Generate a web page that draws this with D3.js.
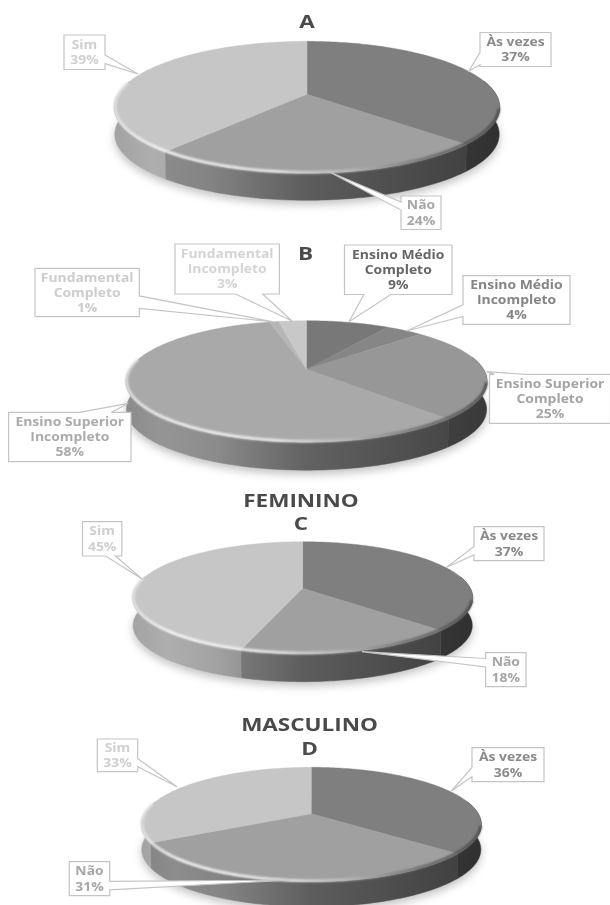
<!DOCTYPE html>
<meta charset="utf-8" />
<title>Pies A-D</title>
<style>
  html, body { margin: 0; background: #fff; }
  svg { display: block; filter: blur(0.55px); }
  text { font-family: "Open Sans", sans-serif; font-weight: 700; text-anchor: middle; }
</style>
<body>
<svg width="610" height="905"></svg>
<script src="https://d3js.org/d3.v7.min.js"></script>
<script>
// values (percent)
const categoriesA = [["Às vezes"], ["Não"], ["Sim"]];
const valuesA = [37, 24, 39];
const categoriesB = [["Ensino Médio", "Completo"], ["Ensino Médio", "Incompleto"], ["Ensino Superior", "Completo"],
  ["Ensino Superior", "Incompleto"], ["Fundamental", "Completo"], ["Fundamental", "Incompleto"]];
const valuesB = [9, 4, 25, 58, 1, 3];
const categoriesC = [["Às vezes"], ["Não"], ["Sim"]];
const valuesC = [37, 18, 45];
const categoriesD = [["Às vezes"], ["Não"], ["Sim"]];
const valuesD = [36, 31, 33];

const sliceA = ["#7f7f7f", "#a0a0a0", "#c6c6c6"];
const sliceB = ["#787878", "#868686", "#979797", "#a9a9a9", "#b6b6b6", "#c8c8c8"];
const textA = ["#8a8a8a", "#a6a6a6", "#cfcfcf"];
const textB = ["#666666", "#858585", "#a4a4a4", "#ababab", "#cdcdcd", "#d4d4d4"];

// pie geometry: cx, apex y, a/b radii, q perspective, depth of the wall
const geomA = { cx: 307, cy: 94.3, a: 189, b: 63.4, q: 0.197, depth: 27 };
const geomB = { cx: 306.5, cy: 369.3, a: 177, b: 58.3, q: 0.2, depth: 28 };
const geomC = { cx: 302.7, cy: 588.3, a: 167.6, b: 54.5, q: 0.17, depth: 27.7 };
const geomD = { cx: 311.3, cy: 813.7, a: 167, b: 55.2, q: 0.189, depth: 25 };

// callout boxes: x, y, w, h, tip, side the wedge leaves from, wedge base as fractions of that side
const boxesA = [
  { x: 480, y: 32.5, w: 71, h: 34, tip: [469, 71], side: "l", f: [0.58, 0.95] },
  { x: 401, y: 196, w: 40, h: 33.5, tip: [329, 171.7], side: "l", f: [0.18, 0.42] },
  { x: 64, y: 35, w: 41, h: 34.5, tip: [138, 74], side: "r", f: [0.58, 0.83] }
];
const boxesB = [
  { x: 344.5, y: 245, w: 107.5, h: 49.5, tip: [349, 321.7], side: "b", f: [0.18, 0.43] },
  { x: 463, y: 275.7, w: 107, h: 48.6, tip: [406.6, 331], side: "l", f: [0.6, 0.84] },
  { x: 489.5, y: 374.3, w: 121, h: 49, tip: [486.4, 371.7], side: "t", f: [0.04, 0.3] },
  { x: 8.6, y: 412.3, w: 122.4, h: 49.4, tip: [128.4, 403.3], side: "t", f: [0.58, 0.84] },
  { x: 35, y: 268.3, w: 104.3, h: 48.4, tip: [272.4, 321.7], side: "r", f: [0.57, 0.83] },
  { x: 175, y: 244, w: 104.4, h: 50, tip: [292, 321], side: "b", f: [0.58, 0.84] }
];
const boxesC = [
  { x: 474, y: 526.7, w: 70, h: 34, tip: [446.7, 567.3], side: "l", f: [0.58, 0.83] },
  { x: 485.6, y: 652.7, w: 40.4, h: 34, tip: [362, 651.7], side: "l", f: [0.17, 0.42] },
  { x: 82.5, y: 521.7, w: 39.3, h: 34.3, tip: [142, 579], side: "b", f: [0.59, 0.84] }
];
const boxesD = [
  { x: 472, y: 747.7, w: 72, h: 34, tip: [451.4, 791], side: "l", f: [0.58, 0.85] },
  { x: 69.3, y: 861.7, w: 40.4, h: 34, tip: [290, 880], side: "r", f: [0.58, 0.83] },
  { x: 97.3, y: 739, w: 40.4, h: 32.7, tip: [177, 786.7], side: "r", f: [0.6, 0.85] }
];

const titles = [
  { t: "A", y: 28 }, { t: "B", x: 305.5, y: 260 },
  { t: "FEMININO", x: 301, y: 507 }, { t: "C", x: 301, y: 530 },
  { t: "MASCULINO", x: 309.5, y: 731 }, { t: "D", x: 309.5, y: 755 }
];

const svg = d3.select("svg");
const defs = svg.append("defs");
defs.append("filter").attr("id", "soft").attr("x", "-20%").attr("y", "-30%").attr("width", "140%").attr("height", "160%")
  .append("feGaussianBlur").attr("stdDeviation", 5);
defs.append("filter").attr("id", "rimBlur").append("feGaussianBlur").attr("stdDeviation", 0.8);

const pie = d3.pie().sort(null);
let gradId = 0;

function projector(g) {
  return (t, down) => {
    const u = Math.sin(t), v = -Math.cos(t), k = 1 - g.q * v, s = down ? 0.997 : 1;
    return [g.cx + s * g.a * u / k, g.cy + g.b * v / k + (down ? g.depth : 0)];
  };
}
function sweep(t0, t1) {
  const n = Math.max(2, Math.ceil((t1 - t0) / 0.02));
  return d3.range(n + 1).map(i => t0 + (t1 - t0) * i / n);
}
const line = d3.line();

function wallGradient(g, color) {
  const id = "wall" + gradId++;
  const left = g.cx - g.a * 1.02, right = g.cx + g.a * 1.02;
  const grad = defs.append("linearGradient").attr("id", id).attr("gradientUnits", "userSpaceOnUse")
    .attr("x1", left).attr("x2", right).attr("y1", 0).attr("y2", 0);
  const c = d3.rgb(color);
  [[0, 0.82], [0.1, 0.88], [0.25, 0.82], [0.5, 0.58], [0.85, 0.44], [1, 0.38]].forEach(([o, m]) => {
    grad.append("stop").attr("offset", o).attr("stop-color", d3.rgb(c.r * m, c.g * m, c.b * m));
  });
  return id;
}

function drawPie(g, values, colors) {
  const p = projector(g), root = svg.append("g");
  const slices = pie(values);
  const around = sweep(0, 2 * Math.PI);

  // soft shadow under the disc
  root.append("path")
    .attr("d", line(around.map(t => { const q = p(t, true); return [q[0], q[1] + 4]; })) + "Z")
    .attr("fill", "#000").attr("opacity", 0.25).attr("filter", "url(#soft)");

  // walls, only the part facing the viewer
  const lo = 1.35, hi = 2 * Math.PI - 1.35;
  slices.forEach((d, i) => {
    const t0 = Math.max(d.startAngle, lo), t1 = Math.min(d.endAngle, hi);
    if (t1 <= t0) return;
    const ts = sweep(t0, t1);
    const pts = ts.map(t => p(t, false)).concat(ts.slice().reverse().map(t => p(t, true)));
    const id = wallGradient(g, colors[i]);
    root.append("path").attr("d", line(pts) + "Z").attr("fill", `url(#${id})`)
      .attr("stroke", `url(#${id})`).attr("stroke-width", 0.5);
  });

  // top face
  slices.forEach((d, i) => {
    const pts = [[g.cx, g.cy]].concat(sweep(d.startAngle, d.endAngle).map(t => p(t, false)));
    root.append("path").attr("d", line(pts) + "Z").attr("fill", colors[i])
      .attr("stroke", colors[i]).attr("stroke-width", 0.4);
  });

  // bevel along the front rim, light on the left, dark on the right
  const id = "rim" + gradId++;
  const grad = defs.append("linearGradient").attr("id", id).attr("gradientUnits", "userSpaceOnUse")
    .attr("x1", g.cx - g.a).attr("x2", g.cx + g.a).attr("y1", 0).attr("y2", 0);
  [[0, "#e4e4e4"], [0.12, "#f6f6f6"], [0.4, "#ededed"], [0.62, "#b8b8b8"], [0.82, "#6a6a6a"], [1, "#4a4a4a"]].forEach(([o, c]) => {
    grad.append("stop").attr("offset", o).attr("stop-color", c);
  });
  root.append("path")
    .attr("d", line(sweep(1.8, 2 * Math.PI - 1.4).map(t => {
      const q = p(t, false);
      return [g.cx + (q[0] - g.cx) * 0.996, q[1] - 1];
    })))
    .attr("fill", "none").attr("stroke", `url(#${id})`).attr("stroke-width", 2.6).attr("filter", "url(#rimBlur)");
}

function calloutPath(b) {
  const x0 = b.x, y0 = b.y, x1 = b.x + b.w, y1 = b.y + b.h;
  const base = f => b.side === "t" || b.side === "b" ? x0 + b.w * f : y0 + b.h * f;
  const [f0, f1] = b.f;
  const pts = [[x0, y0]];
  if (b.side === "t") pts.push([base(f0), y0], b.tip, [base(f1), y0]);
  pts.push([x1, y0]);
  if (b.side === "r") pts.push([x1, base(f0)], b.tip, [x1, base(f1)]);
  pts.push([x1, y1]);
  if (b.side === "b") pts.push([base(f1), y1], b.tip, [base(f0), y1]);
  pts.push([x0, y1]);
  if (b.side === "l") pts.push([x0, base(f1)], b.tip, [x0, base(f0)]);
  return line(pts) + "Z";
}

function drawLabels(boxes, cats, values, inks) {
  boxes.forEach((b, i) => {
    const lab = svg.append("g");
    lab.append("path").attr("d", calloutPath(b)).attr("fill", "#fff").attr("stroke", "#c4c4c4").attr("stroke-width", 1.2);
    const rows = cats[i].concat(values[i] + "%");
    const lh = 15.2, top = b.y + b.h / 2 - (rows.length - 1) * lh / 2 + 4.2;
    rows.forEach((r, k) => {
      // the source is stretched sideways, so are the labels
      lab.append("text").attr("transform", `translate(${b.x + b.w / 2},${top + k * lh}) scale(1.2,1)`)
        .attr("font-size", 11.6).attr("fill", inks[i]).text(r);
    });
  });
}

drawPie(geomA, valuesA, sliceA);
drawPie(geomB, valuesB, sliceB);
drawPie(geomC, valuesC, sliceA);
drawPie(geomD, valuesD, sliceA);
drawLabels(boxesA, categoriesA, valuesA, textA);
drawLabels(boxesB, categoriesB, valuesB, textB);
drawLabels(boxesC, categoriesC, valuesC, textA);
drawLabels(boxesD, categoriesD, valuesD, textA);

svg.selectAll("text.title").data(titles).join("text").attr("class", "title")
  .attr("transform", d => `translate(${d.x || 307},${d.y}) scale(1.25,1)`)
  .attr("font-size", 18).attr("fill", "#4a4a4a").text(d => d.t);
</script>
</body>
